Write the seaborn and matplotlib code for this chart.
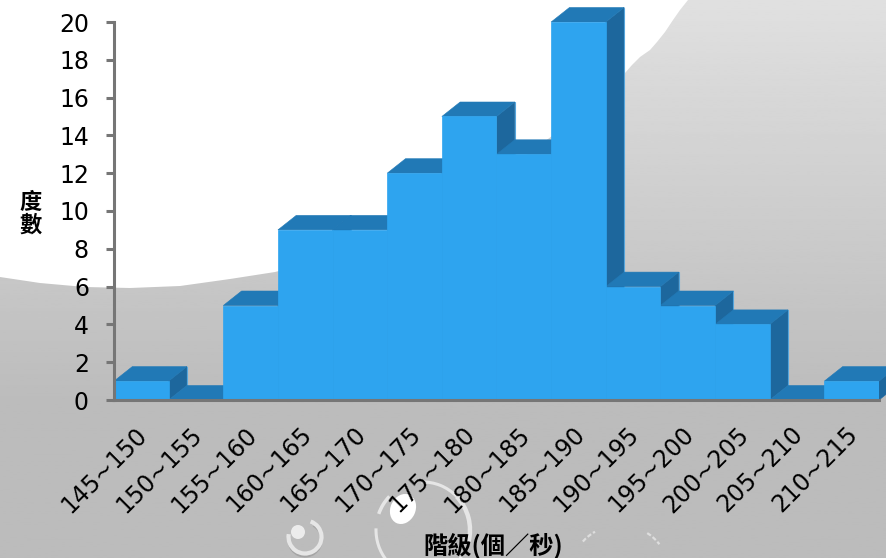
import numpy as np
import matplotlib
matplotlib.use("Agg")
import matplotlib.pyplot as plt
from matplotlib.patches import Polygon, Arc, Ellipse
from matplotlib.transforms import ScaledTranslation
import seaborn as sns

classes = ["145~150", "150~155", "155~160", "160~165", "165~170", "170~175", "175~180",
           "180~185", "185~190", "190~195", "195~200", "200~205", "205~210", "210~215"]
frequency = [1, 0, 5, 9, 9, 12, 15, 13, 20, 6, 5, 4, 0, 1]
y_ticks = list(range(0, 21, 2))
x_title = "階級(個／秒)"
y_title = "度\n數"

W, H = 887, 558
FRONT, TOP, SIDE, RIM = "#2ea4ef", "#2179b6", "#1d679d", "#55a5dc"
AXIS = "#767676"
CJK = ["Noto Sans CJK TC", "DejaVu Sans"]
RING = "#e6e6e6"

sns.set_theme(style="white")
plt.rcParams["font.family"] = ["DejaVu Sans", "Noto Sans CJK TC"]
fig = plt.figure(figsize=(W / 100, H / 100), dpi=100)

# background: grey gradient with a white swoosh and glassy bubbles
bg = fig.add_axes([0, 0, 1, 1], zorder=0)
bg.set_xlim(0, W)
bg.set_ylim(H, 0)
bg.axis("off")
grad = np.clip(np.linspace(224, 224 - 36 * H / 400, 256), 188, 224)[:, None] / 255
bg.imshow(grad, cmap="gray", vmin=0, vmax=1, extent=[0, W, H, 0], aspect="auto", zorder=0)
swoosh = [(0, 0), (688, 0), (680, 10), (673, 20), (665, 32), (657, 42), (650, 50), (640, 57),
          (632, 65), (625, 73), (580, 115), (500, 175), (400, 232), (330, 258), (275, 272),
          (230, 279), (180, 286), (130, 288), (85, 287), (40, 283), (0, 277)]
bg.add_patch(Polygon(swoosh, closed=True, fc="white", ec="none", zorder=1))
c, d = (423, 530), (94, 96)
for t1, t2, lw in [(-92, -45, 2.2), (-45, 15, 3.2), (35, 45, 3), (140, 182, 2.2), (200, 225, 2.5)]:
    bg.add_patch(Arc(c, *d, theta1=t1, theta2=t2, color=RING, lw=lw, zorder=2))
bg.add_patch(Ellipse((403, 509), 25, 31, angle=25, fc="white", ec="none", zorder=2))
bg.add_patch(Arc((305, 540), 33, 33, theta1=-60, theta2=170, color="#8f8f8f", lw=1.5, alpha=0.5, zorder=2))
bg.add_patch(Arc((305, 537), 33, 33, theta1=-70, theta2=190, color=RING, lw=3, zorder=2))
bg.add_patch(Ellipse((298, 532), 14, 14, fc="#ececec", ec="none", zorder=3))
for t1, t2 in [(222, 240), (303, 322)]:
    bg.add_patch(Arc((620, 575), 100, 100, theta1=t1, theta2=t2, color="#dedede", lw=1.6, ls=(0, (2, 1)), zorder=2))

# chart
ax = fig.add_axes([114 / W, (H - 400) / H, 765 / W, 378 / H], zorder=1)
ax.patch.set_alpha(0)
sns.barplot(x=classes, y=frequency, color=FRONT, saturation=1, width=1.0, ax=ax,
            edgecolor="none", zorder=5)
for bar in ax.containers[0]:
    bar.set_edgecolor(FRONT)
    bar.set_linewidth(0.5)
ax.set_xlim(-0.5, 13.5)
ax.set_ylim(0, 20)

dx, dy = 18.3 / (765 / 14), 14.5 / (378 / 20)
for i, v in enumerate(frequency):
    l, r = i - 0.5, i + 0.5
    ax.add_patch(Polygon([(r, 0), (r + dx, dy), (r + dx, v + dy), (r, v)], closed=True,
                         fc=SIDE, ec=SIDE, lw=0.4, clip_on=False, zorder=2 + i * 0.01))
    ax.plot([r + dx, r + dx], [dy, v + dy], color=RIM, lw=0.8, clip_on=False, zorder=2 + i * 0.01)
    ax.add_patch(Polygon([(l, v), (r, v), (r + dx, v + dy), (l + dx, v + dy)], closed=True,
                         fc=TOP, ec=TOP, lw=0.4, clip_on=False, zorder=2 + i * 0.01 + 0.005))

sns.despine(ax=ax, top=True, right=True)
for s in ("left", "bottom"):
    ax.spines[s].set_color(AXIS)
    ax.spines[s].set_linewidth(2.2)
    ax.spines[s].set_zorder(6)
ax.set_yticks(y_ticks)
ax.tick_params(axis="y", left=True, length=6, width=2.2, color=AXIS, pad=12, labelsize=17, labelcolor="black")
ax.tick_params(axis="x", bottom=False, length=0, pad=16, labelsize=17, labelcolor="black")
shift = ScaledTranslation(-6 / 100, 0, fig.dpi_scale_trans)
for lab in ax.get_xticklabels():
    lab.set_rotation(45)
    lab.set_ha("right")
    lab.set_rotation_mode("anchor")
    lab.set_transform(lab.get_transform() + shift)

ax.set_xlabel(x_title, family=CJK, fontsize=17.5, fontweight="bold", color="black")
ax.xaxis.set_label_coords((493 - 114) / 765, (400 - 545) / 378)
ax.xaxis.label.set_va("center")
ax.set_ylabel(y_title, family=CJK, fontsize=16, fontweight="bold", color="black",
              rotation=0, ha="center", va="center", linespacing=1.0)
ax.yaxis.set_label_coords((31 - 114) / 765, (400 - 214) / 378)

fig.savefig("out.png", dpi=100)
